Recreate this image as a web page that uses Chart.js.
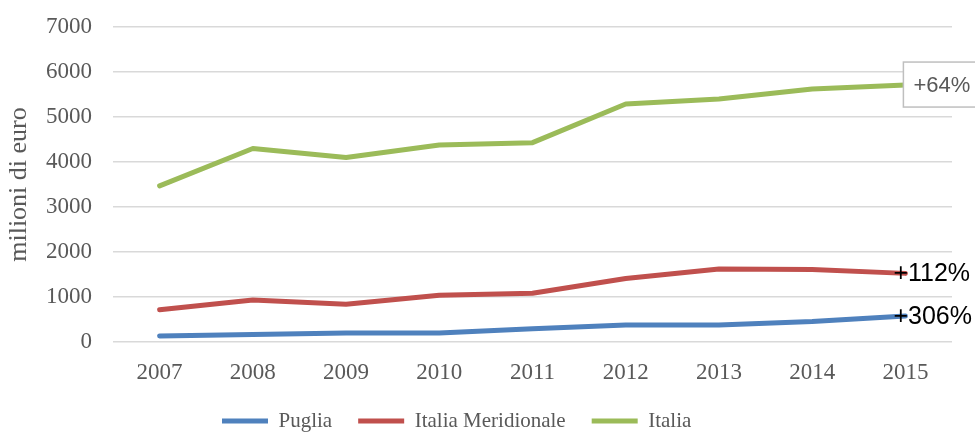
<!DOCTYPE html>
<html>
<head>
<meta charset="utf-8">
<script src="https://cdn.jsdelivr.net/npm/chart.js@4"></script>
<style>
  html, body { margin: 0; padding: 0; background: #fff; }
  #wrap { width: 975px; height: 432px; }
</style>
</head>
<body>
<div id="wrap"><canvas id="chart" width="975" height="432"></canvas></div>
<script>
// Data (milioni di euro)
const years = ['2007', '2008', '2009', '2010', '2011', '2012', '2013', '2014', '2015'];
const puglia = [135, 165, 200, 200, 295, 380, 380, 455, 580];
const meridionale = [715, 935, 840, 1040, 1085, 1410, 1620, 1610, 1525];
const italia = [3470, 4300, 4100, 4380, 4430, 5290, 5400, 5620, 5710];
const growthLabels = ['+306%', '+112%', '+64%'];

const gray = '#595959';
const serif = '"Liberation Serif", "Times New Roman", serif';

// Growth labels at the end of each line
const endLabels = {
    id: 'endLabels',
    afterDatasetsDraw(chart) {
        const ctx = chart.ctx;
        chart.data.datasets.forEach((ds, i) => {
            const meta = chart.getDatasetMeta(i);
            const pt = meta.data[meta.data.length - 1];
            const text = growthLabels[i];
            ctx.save();
            ctx.textBaseline = 'middle';
            ctx.textAlign = 'left';
            if (i === 2) {
                ctx.font = '22px "Liberation Sans", Arial, sans-serif';
                const w = ctx.measureText(text).width;
                ctx.fillStyle = '#fff';
                ctx.strokeStyle = '#BFBFBF';
                ctx.lineWidth = 1.5;
                ctx.fillRect(pt.x - 2, pt.y - 23, w + 24, 45);
                ctx.strokeRect(pt.x - 2, pt.y - 23, w + 24, 45);
                ctx.fillStyle = gray;
                ctx.fillText(text, pt.x + 8, pt.y + 1);
            } else {
                ctx.font = '25px "Liberation Sans", Arial, sans-serif';
                ctx.fillStyle = '#000';
                ctx.fillText(text, pt.x - 12, pt.y + 1);
            }
            ctx.restore();
        });
    }
};

// Move the legend to where it sits in the original
const legendPlace = {
    id: 'legendPlace',
    afterLayout(chart) {
        const lg = chart.legend;
        const pad = lg.options.labels.padding;
        lg.left = 0;
        lg.right = 2 * 222 - pad + lg.lineWidths[0];
        lg.top = 421 - pad - 10.5;
        lg.bottom = chart.height;
        lg.adjustHitBoxes();
    }
};

const ctx = document.getElementById('chart').getContext('2d');
new Chart(ctx, {
    type: 'line',
    data: {
        labels: years,
        datasets: [
            { label: 'Puglia', data: puglia, borderColor: '#4F81BD', backgroundColor: '#4F81BD', borderWidth: 5 },
            { label: 'Italia Meridionale', data: meridionale, borderColor: '#C0504D', backgroundColor: '#C0504D', borderWidth: 5 },
            { label: 'Italia', data: italia, borderColor: '#9BBB59', backgroundColor: '#9BBB59', borderWidth: 5 }
        ]
    },
    options: {
        responsive: false,
        animation: false,
        layout: { padding: { top: 27, right: 23, left: 0, bottom: 0 } },
        elements: {
            line: { tension: 0, borderCapStyle: 'round', borderJoinStyle: 'round' },
            point: { radius: 0 }
        },
        plugins: {
            tooltip: { enabled: false },
            legend: {
                position: 'bottom',
                maxHeight: 40,
                labels: {
                    usePointStyle: true,
                    pointStyle: 'line',
                    pointStyleWidth: 46,
                    padding: 26,
                    color: gray,
                    font: { family: serif, size: 21 }
                }
            }
        },
        scales: {
            x: {
                offset: true,
                grid: { display: false },
                border: { display: false },
                ticks: { color: gray, padding: 9, font: { family: serif, size: 23 } },
                afterFit(scale) { scale.height = 50; }
            },
            y: {
                min: 0,
                max: 7000,
                grid: { color: '#D9D9D9', lineWidth: 1.5, drawTicks: false },
                border: { display: false },
                ticks: {
                    stepSize: 1000,
                    color: gray,
                    padding: 21,
                    font: { family: serif, size: 23 },
                    callback: (v) => String(v)
                },
                title: {
                    display: true,
                    text: 'milioni di euro',
                    color: gray,
                    padding: { top: 4, bottom: 0 },
                    font: { family: serif, size: 26 }
                },
                afterFit(scale) {
                    scale.width = 113;
                    scale.paddingTop = 0;
                    scale.paddingBottom = 0;
                }
            }
        }
    },
    plugins: [endLabels, legendPlace]
});
</script>
</body>
</html>
